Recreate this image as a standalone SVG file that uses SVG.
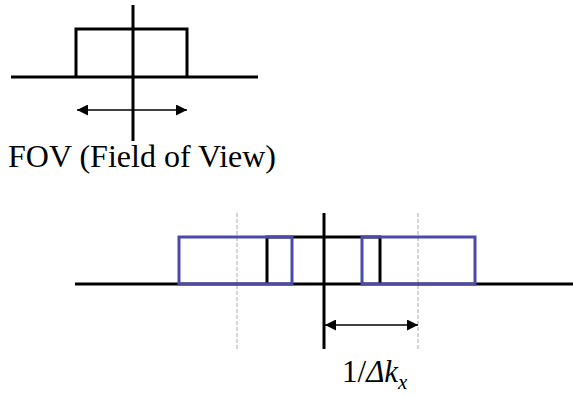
<svg xmlns="http://www.w3.org/2000/svg" width="573" height="396" viewBox="0 0 573 396">
<defs>
<style>
.k{stroke:#000;stroke-width:3;fill:none}
.b{stroke:#4a4aac;stroke-width:3;fill:none}
.d{stroke:#aaa;stroke-width:1;stroke-dasharray:4,2;fill:none}
.a{stroke:#000;stroke-width:1.5;fill:none}
.t{font-family:"Liberation Serif","Times New Roman",serif;fill:#000}
</style>
<marker id="ah" viewBox="0 0 10 10" refX="10" refY="5" markerWidth="11" markerHeight="11" markerUnits="userSpaceOnUse" orient="auto-start-reverse">
<path d="M0,0 L10,5 L0,10 Z" fill="#000"/>
</marker>
</defs>
<g id="fov-plot">
<line class="k" x1="11" y1="77" x2="258" y2="77"/>
<line class="k" x1="133" y1="5" x2="133" y2="141"/>
<polyline class="k" points="76,77 76,29 187,29 187,77"/>
</g>
<g id="fov-label">
<text class="t" font-family="Liberation Serif, serif" x="8" y="167" font-size="32">FOV (Field of View)</text>
</g>
<g id="aliased-plot">
<line class="d" x1="237" y1="213" x2="237" y2="349"/>
<line class="d" x1="418" y1="213" x2="418" y2="349"/>
<line class="k" x1="75" y1="284" x2="573" y2="284"/>
<line class="k" x1="324" y1="213" x2="324" y2="349"/>
<polyline class="k" points="267,284 267,237 380,237 380,284"/>
<rect class="b" x="179" y="237" width="113" height="47"/>
<rect class="b" x="362" y="237" width="113" height="47"/>
</g>
<g id="connectors">
<line class="a" x1="77" y1="110" x2="187" y2="110" marker-start="url(#ah)" marker-end="url(#ah)"/>
<line class="a" x1="325" y1="325" x2="418" y2="325" marker-start="url(#ah)" marker-end="url(#ah)"/>
</g>
<g id="delta-label">
<text class="t" font-family="Liberation Serif, serif" x="342" y="382" font-size="31">1/<tspan font-style="italic">Δk</tspan><tspan font-style="italic" font-size="21" dy="7">x</tspan></text>
</g>
</svg>
